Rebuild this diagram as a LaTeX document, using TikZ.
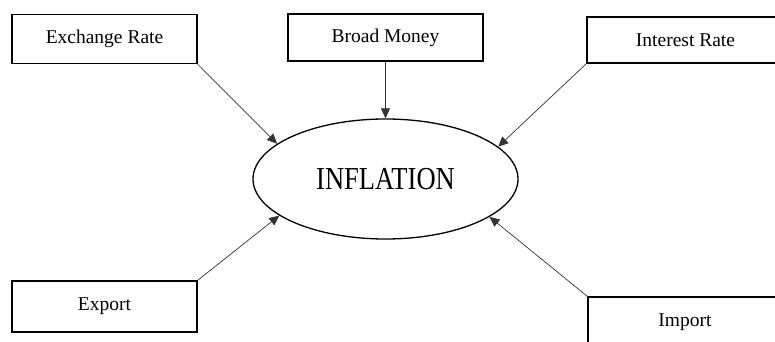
\documentclass[tikz,border=0pt]{standalone}
\usepackage{fontspec}
\setmainfont{Liberation Serif}
\usetikzlibrary{shapes.geometric,arrows.meta}
\tikzset{
  factor/.style={draw=black,line width=1.2pt,minimum width=#1,inner sep=0pt,
    font=\fontsize{19.5}{23}\selectfont},
  core/.style={draw=black,ellipse,line width=1.3pt,minimum width=265pt,minimum height=120pt,inner sep=0pt},
  link/.style={draw=black!80,line width=0.7pt,-{Triangle[length=10pt,width=9pt]}}
}
\begin{document}
\begin{tikzpicture}[x=1pt,y=1pt]
\clip (0,0) rectangle (775,341);
\fill[white] (0,0) rectangle (775,341);
\node[factor=185pt,minimum height=49pt] (ex) at (104.5,302) {Exchange Rate};
\node[factor=195pt,minimum height=47pt] (bm) at (385.5,303.5) {Broad Money};
\node[factor=197pt,minimum height=46pt] (ir) at (685.5,301) {Interest Rate};
\node[factor=185pt,minimum height=51pt] (exp) at (104.5,34.5) {Export};
\node[factor=194pt,minimum height=50pt] (im) at (685,19) {Import};
\node[core] (inf) at (385.5,162) {\scalebox{0.83}[1]{\fontsize{32}{36}\selectfont INFLATION}};
\draw[link] (ex.south east) -- (inf.162.7);
\draw[link] (bm.south) -- (inf.north);
\draw[link] (ir.south west) -- (inf.16.3);
\draw[link] (exp.north east) -- (inf.199.1);
\draw[link] (im.north west) -- (inf.340.7);
\end{tikzpicture}
\end{document}
